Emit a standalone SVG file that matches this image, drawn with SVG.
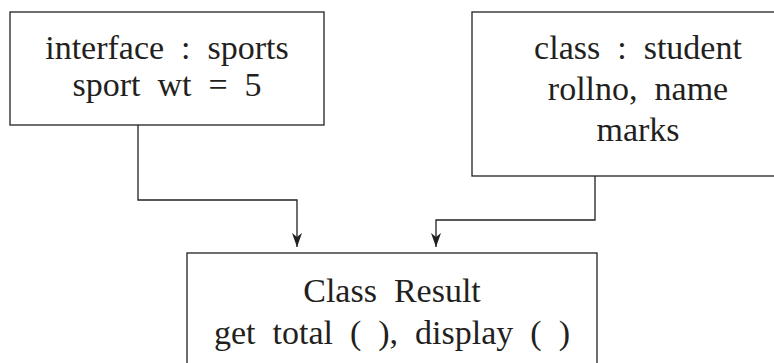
<svg xmlns="http://www.w3.org/2000/svg" width="774" height="363" viewBox="0 0 774 363">
<style>
.box{fill:#fff;stroke:#231f20;stroke-width:1.3}
.t{font-family:"Liberation Serif","Times New Roman",serif;font-size:34px;fill:#231f20;text-anchor:middle;white-space:pre}
.c{fill:none;stroke:#231f20;stroke-width:1.3}
</style>
<defs>
<marker id="ah" markerUnits="userSpaceOnUse" markerWidth="12" markerHeight="16" refX="6" refY="14" orient="0" viewBox="0 0 12 16">
<path d="M6,14 L1,0 L6,4 L11,0 Z" fill="#231f20"/>
</marker>
</defs>
<rect width="774" height="363" fill="#fff"/>
<g id="connectors">
<path class="c" d="M138,125 V200 H297 V247" marker-end="url(#ah)"/>
<path class="c" d="M595,176 V220 H436 V247" marker-end="url(#ah)"/>
</g>
<g id="sports">
<rect class="box" x="10" y="12" width="314" height="113"/>
<text class="t" x="167" y="59">interface  :  sports</text>
<text class="t" x="167" y="96">sport  wt  =  5</text>
</g>
<g id="student">
<rect class="box" x="472" y="12" width="340" height="164"/>
<text class="t" x="638" y="59">class  :  student</text>
<text class="t" x="638" y="100">rollno,  name</text>
<text class="t" x="638" y="141">marks</text>
</g>
<g id="result">
<rect class="box" x="187" y="253" width="410" height="130"/>
<text class="t" x="392" y="302">Class  Result</text>
<text class="t" x="392" y="344">get  total  (  ),  display  (  )</text>
</g>
</svg>
